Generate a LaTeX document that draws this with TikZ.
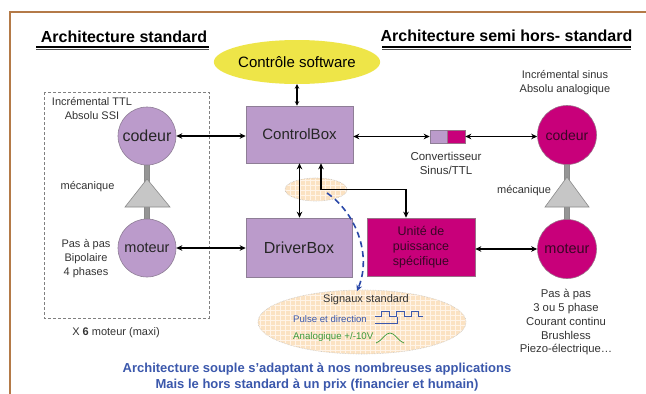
\documentclass[tikz,border=0pt]{standalone}
\usepackage{fontspec}
\setmainfont{Liberation Sans}
\usetikzlibrary{arrows.meta,shapes.geometric}
\definecolor{lav}{HTML}{BB9BCB}
\definecolor{lavline}{HTML}{8E7E96}
\definecolor{mag}{HTML}{C8007A}
\definecolor{magline}{HTML}{9A7088}
\definecolor{yel}{HTML}{EEE548}
\definecolor{peach}{HTML}{FBE2C2}
\definecolor{framec}{HTML}{B47A48}
\definecolor{txt}{HTML}{333333}
\definecolor{magtxt}{HTML}{3A0626}
\definecolor{blu}{HTML}{3B58AC}
\definecolor{grn}{HTML}{3C9A3C}
\definecolor{dblu}{HTML}{2A48A8}
\definecolor{trig}{HTML}{C6C6C6}
\definecolor{trigline}{HTML}{8A8A8A}
\definecolor{rodc}{HTML}{959595}
\newcommand\fsz[2]{\fontsize{#1}{#2}\selectfont}
\begin{document}
\begin{tikzpicture}[x=1pt,y=-1pt,
  lavbox/.style={draw=lavline, fill=lav, line width=0.6pt, inner sep=0pt, text=black!85},
  magbox/.style={draw=magline, fill=mag, line width=0.6pt, inner sep=0pt, text=magtxt},
  lab/.style={text=txt, inner sep=0pt, align=center, font=\fsz{11}{13.5}},
  arr/.style={line width=1.3pt, {Stealth[length=6pt,width=5.5pt]}-{Stealth[length=6pt,width=5.5pt]}},
  arrs/.style={line width=1.1pt, {Stealth[length=4.5pt,width=4.5pt]}-{Stealth[length=4.5pt,width=4.5pt]}},
  rod/.style={fill=rodc, draw=trigline, line width=0.4pt},
  tri/.style={fill=trig, draw=trigline, line width=0.6pt}
]
\useasboundingbox (0,0) rectangle (646,394);
\fill[white] (0,0) rectangle (646,394);
% frame
\draw[framec, line width=1.4pt] (10,394) -- (10,12) -- (646,12);

% titles
\node[font=\fsz{16}{19}\bfseries, inner sep=0pt] (t1) at (124,37) {Architecture standard};
\draw[line width=1.3pt] (36,47) -- (209,47);
\draw[line width=0.7pt, black!70] (36,49.8) -- (209,49.8);
\node[font=\fsz{16}{19}\bfseries, inner sep=0pt] (t2) at (506.5,36) {Architecture semi hors- standard};
\draw[line width=1.3pt] (382,47) -- (631,47);
\draw[line width=0.7pt, black!70] (382,49.8) -- (631,49.8);

% dashed box
\draw[gray, line width=0.7pt, densely dashed] (44,92) rectangle (209,318);

% software ellipse
\node[ellipse, fill=yel, minimum width=148pt, minimum height=44pt, inner sep=0pt, font=\fsz{15}{18}] (sw) at (297,62) {Contrôle software};

% small peach ellipse
\node[ellipse, fill=peach, draw=gray!50, densely dotted, line width=0.6pt, minimum width=62pt, minimum height=23pt, inner sep=0pt] (se) at (316,189.5) {};
\begin{scope}
\clip (316,189.5) ellipse [x radius=30.5, y radius=11];
\draw[orange!9, very thin, step=5pt] (280,175) grid (350,205);
\end{scope}

% big peach ellipse
\node[ellipse, fill=peach, draw=gray!45, densely dotted, line width=0.6pt, minimum width=208pt, minimum height=64pt, inner sep=0pt] (sig) at (362,322) {};
\begin{scope}
\clip (362,322) ellipse [x radius=103.5, y radius=31.5];
\draw[orange!9, very thin, step=5pt] (255,285) grid (470,360);
\end{scope}

% boxes
\node[lavbox, minimum width=107pt, minimum height=57pt, font=\fsz{15}{18}] (cb) at (299.5,134.5) {ControlBox};
\node[lavbox, minimum width=106pt, minimum height=59pt, font=\fsz{16}{19}] (db) at (299,247.5) {DriverBox};
\node[magbox, minimum width=108pt, minimum height=58pt, align=center, font=\fsz{12.5}{15}] (ub) at (421,247) {\textcolor{magtxt}{Unité de}\\\textcolor{magtxt}{puissance}\\\textcolor{magtxt}{spécifique}};

% converter
\node[lavbox, minimum width=17pt, minimum height=13pt] (cvl) at (438.5,136.5) {};
\node[magbox, minimum width=18pt, minimum height=13pt] (cvr) at (456,136.5) {};

% mechanics left
\fill[rod] (144.5,164) rectangle (149.5,186);
\fill[rod] (144.5,205) rectangle (149.5,221);
\draw[tri] (147,179) -- (170,207) -- (125,207) -- cycle;
\node[lavbox, circle, minimum size=58pt, font=\fsz{16}{19}] (cL) at (147,136) {codeur};
\node[lavbox, circle, minimum size=58pt, font=\fsz{14.5}{17}] (mL) at (147,248) {moteur};

% mechanics right
\fill[rod] (564.5,163) rectangle (569.5,186);
\fill[rod] (564.5,205) rectangle (569.5,221);
\draw[tri] (567,177) -- (589,207) -- (545,207) -- cycle;
\node[magbox, circle, minimum size=59pt, font=\fsz{14}{17}] (cR) at (567,135) {codeur};
\node[magbox, circle, minimum size=59pt, font=\fsz{14.5}{17}] (mR) at (567,249) {moteur};

% labels left
\node[lab] (l1) at (92,108.5) {Incrémental TTL\\Absolu SSI};
\node[lab] (l2) at (87.5,187) {mécanique};
\node[lab, font=\fsz{11}{14}] (l3) at (86,259) {Pas à pas\\Bipolaire\\4 phases};
\node[lab] (l4) at (116,333) {X \textbf{6} moteur (maxi)};

% labels right
\node[lab, font=\fsz{11}{14}] (r1) at (565,83) {Incrémental sinus\\Absolu analogique};
\node[lab] (r2) at (524,191) {mécanique};
\node[lab, font=\fsz{11.5}{14}] (r3) at (446,163) {Convertisseur\\Sinus/TTL};
\node[lab, font=\fsz{11.3}{13.75}] (r4) at (566,322.5) {Pas à pas\\3 ou 5 phase\\Courant continu\\Brushless\\Piezo-électrique…};

% signal ellipse text
\node[lab, font=\fsz{11}{13}] (s1) at (366,300) {Signaux standard};
\node[lab, anchor=west, text=blu, font=\fsz{9.6}{12}] (s2) at (293,319) {Pulse et direction};
\node[lab, anchor=west, text=grn, font=\fsz{9.7}{12}] (s3) at (293,337) {Analogique +/-10V};
\draw[blu, line width=0.7pt] (375,316) -- (381,316) -- (381,311) -- (389,311) -- (389,316) -- (396,316) -- (396,311) -- (404,311) -- (404,316) -- (411,316) -- (411,311) -- (418,311) -- (418,316) -- (423,316);
\draw[blu, line width=0.7pt] (375,323) -- (397,323) -- (397,316.5);
\draw[grn, line width=0.7pt] (376,343) .. controls (383,340) and (385,333) .. (390,333) .. controls (395,333) and (397,340) .. (404,343);

% bottom text
\node[inner sep=0pt, text=blu, font=\fsz{13}{16}\bfseries, align=center] (bt) at (317,377) {Architecture souple s'adaptant à nos nombreuses applications\\Mais le hors standard à un prix (financier et humain)};

% connectors
\draw[arrs] (sw.south) -- (sw.south |- cb.north);
\draw[arr] (cL.east) -- (cL.east -| cb.west);
\draw[arr] (mL.east) -- (mL.east -| db.west);
\draw[arr] (cvl.west -| cb.east) -- (cvl.west);
\draw[arr] (cvr.east) -- (cvr.east -| cR.west);
\draw[arr] (mR.west -| ub.east) -- (mR.west);
\draw[arr] (cb.south) -- (cb.south |- db.north);
\coordinate (j1) at (321,189.5);
\coordinate (j2) at (406,189.5);
\draw[arr] (j1 |- cb.south) -- (j1) -- (j2) -- (j2 |- ub.north);
\coordinate (ds) at (327,193);
\coordinate (de) at (357,291);
\draw[dblu, line width=1.6pt, dash pattern=on 6pt off 4pt, -{Stealth[length=6pt,width=6pt]}] (ds) .. controls (356,213) and (372,255) .. (de);
\end{tikzpicture}
\end{document}
